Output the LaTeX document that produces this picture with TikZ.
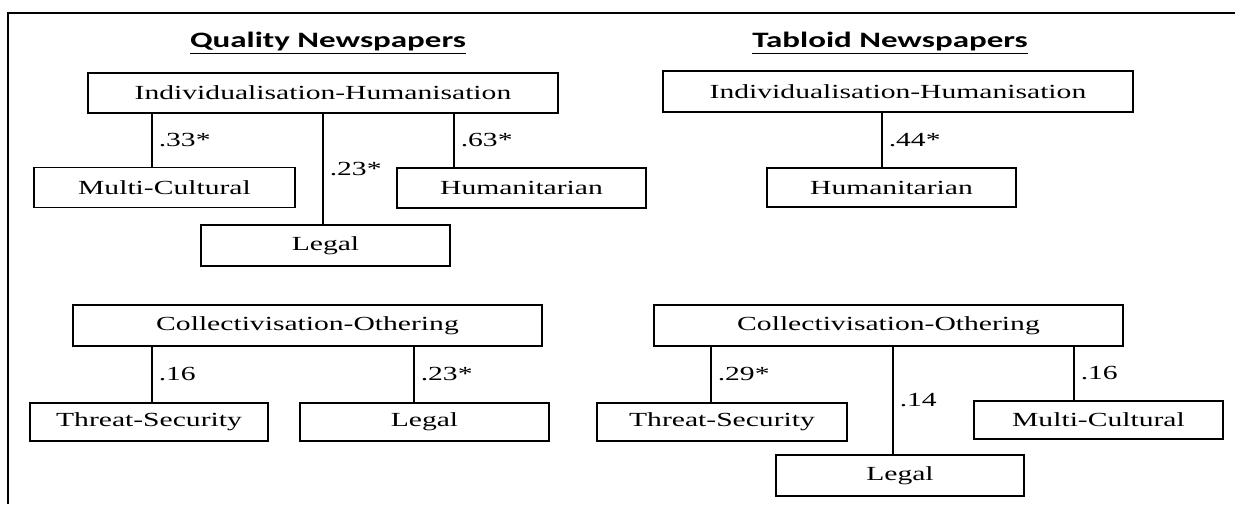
\documentclass[tikz,border=0pt]{standalone}
\usepackage{fontspec}
\setmainfont{Liberation Serif}[FakeStretch=1.48]
\newfontfamily\headfont{Carlito}[FakeStretch=1.5]
\usepackage{tikz}
\usetikzlibrary{positioning}

\tikzset{
  catbox/.style={draw, line width=1.5pt, inner sep=0pt, minimum height=40pt,
    font=\fontsize{20}{24}\selectfont},
  link/.style={line width=1.5pt},
  corr/.style={anchor=west, inner sep=0pt, xshift=6pt, font=\fontsize{20}{24}\selectfont},
  heading/.style={inner sep=0pt, font=\headfont\bfseries\fontsize{22}{26}\selectfont},
}

\begin{document}
\begin{tikzpicture}[x=1pt, y=-1pt]
  \useasboundingbox (0,0) rectangle (1235,504);
  % outer frame (cut off at right and bottom)
  \draw[line width=1.5pt] (8,504) -- (8,13) -- (1235,13);

  % headings
  \node[heading] (hQ) at (328,43) {\underline{Quality Newspapers}};
  \node[heading] (hT) at (890,43) {\underline{Tabloid Newspapers}};

  % quality, individualisation
  \node[catbox, minimum width=470pt] (indQ) at (323,93) {Individualisation-Humanisation};
  \node[catbox, minimum width=261pt] (mcQ) at (164.5,187.5) {Multi-Cultural};
  \node[catbox, minimum width=249pt] (huQ) at (521.5,188) {Humanitarian};
  \node[catbox, minimum width=249pt, minimum height=41pt] (lgQ) at (325.5,245.5) {Legal};
  \draw[link] (152,0 |- indQ.south) -- node[corr]{.33*} (152,0 |- mcQ.north);
  \draw[link] (323,0 |- indQ.south) -- node[corr]{.23*} (323,0 |- lgQ.north);
  \draw[link] (454,0 |- indQ.south) -- node[corr]{.63*} (454,0 |- huQ.north);

  % tabloid, individualisation
  \node[catbox, minimum width=470pt, minimum height=41pt] (indT) at (898,91.5) {Individualisation-Humanisation};
  \node[catbox, minimum width=249pt, minimum height=39pt] (huT) at (891.5,187.5) {Humanitarian};
  \draw[link] (882,0 |- indT.south) -- node[corr]{.44*} (882,0 |- huT.north);

  % quality, collectivisation
  \node[catbox, minimum width=469pt, minimum height=41pt] (colQ) at (307.5,325.5) {Collectivisation-Othering};
  \node[catbox, minimum width=238pt, minimum height=38pt] (tsQ) at (149,422) {Threat-Security};
  \node[catbox, minimum width=249pt, minimum height=38pt] (lg2Q) at (424.5,422) {Legal};
  \draw[link] (152,0 |- colQ.south) -- node[corr]{.16} (152,0 |- tsQ.north);
  \draw[link] (414,0 |- colQ.south) -- node[corr]{.23*} (414,0 |- lg2Q.north);

  % tabloid, collectivisation
  \node[catbox, minimum width=469pt, minimum height=41pt] (colT) at (888.5,325.5) {Collectivisation-Othering};
  \node[catbox, minimum width=250pt, minimum height=38pt] (tsT) at (722,422) {Threat-Security};
  \node[catbox, minimum width=249pt, minimum height=38pt] (mcT) at (1098.5,420) {Multi-Cultural};
  \node[catbox, minimum width=248pt, minimum height=41pt] (lgT) at (900,475.5) {Legal};
  \draw[link] (711,0 |- colT.south) -- node[corr]{.29*} (711,0 |- tsT.north);
  \draw[link] (893,0 |- colT.south) -- node[corr]{.14} (893,0 |- lgT.north);
  \draw[link] (1074,0 |- colT.south) -- node[corr]{.16} (1074,0 |- mcT.north);
\end{tikzpicture}
\end{document}
